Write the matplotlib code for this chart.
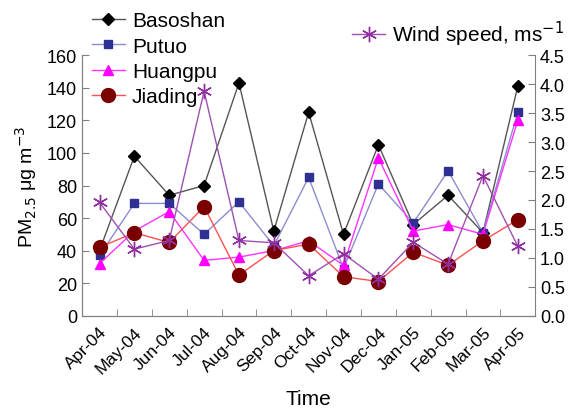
import numpy as np
import matplotlib
matplotlib.use("Agg")
import matplotlib.pyplot as plt

plt.rcParams['font.family'] = ['Liberation Sans', 'DejaVu Sans']

months = ["Apr-04", "May-04", "Jun-04", "Jul-04", "Aug-04", "Sep-04", "Oct-04",
          "Nov-04", "Dec-04", "Jan-05", "Feb-05", "Mar-05", "Apr-05"]

basoshan = [40, 98, 74, 80, 143, 52, 125, 50, 105, 56, 74, 51, 141]
putuo = [37, 69, 69, 50, 70, 43, 85, 29, 81, 57, 89, 51, 125]
huangpu = [32, 52, 64, 34, 36, 40, 46, 31, 97, 52, 56, 50, 120]
jiading = [42, 51, 45, 67, 25, 40, 44, 24, 21, 39, 31, 46, 59]
wind = [1.96, 1.15, 1.30, 3.88, 1.30, 1.26, 0.69, 1.07, 0.63, 1.27, 0.89, 2.42, 1.20]


def main():
    fig = plt.figure(figsize=(5.7, 4.14), dpi=100)
    ax = fig.add_axes([0.144, 0.235, 0.795, 0.629])
    ax2 = ax.twinx()

    x = np.arange(len(months))
    lw = 1.0
    l1, = ax.plot(x, basoshan, color="#555555", lw=lw, marker="D", ms=6,
                  mfc="black", mec="black", label="Basoshan")
    l2, = ax.plot(x, putuo, color="#8c8cd0", lw=lw, marker="s", ms=6,
                  mfc="#2e3192", mec="#2e3192", label="Putuo")
    l3, = ax.plot(x, huangpu, color="#ff33ff", lw=lw, marker="^", ms=7,
                  mfc="#ff00ff", mec="#ff00ff", label="Huangpu")
    l4, = ax.plot(x, jiading, color="#ff5050", lw=lw, marker="o", ms=10,
                  mfc="#7a0000", mec="#7a0000", label="Jiading")
    l5, = ax2.plot(x, wind, color="#a050b0", lw=lw, marker=(6, 2, 0), ms=11,
                   mec="#9030a0", mew=1.0, label="Wind speed, ms$^{-1}$")

    ax.set_xlim(-0.5, len(months) - 0.5)
    ax.set_ylim(0, 160)
    ax.set_yticks(np.arange(0, 161, 20))
    ax2.set_ylim(0, 4.5)
    ax2.set_yticks(np.arange(0, 4.51, 0.5))
    ax2.set_yticklabels([f"{v:.1f}" for v in np.arange(0, 4.51, 0.5)])

    ax.set_xticks(x)
    ax.set_xticklabels(months, rotation=45, ha="right", rotation_mode="anchor")
    ax.set_xticks(np.arange(0.5, len(months) - 1, 1), minor=True)
    ax.tick_params(axis="x", which="major", length=0, labelsize=12.5, pad=6)
    ax.tick_params(axis="x", which="minor", direction="in", length=5, color="#808080")
    ax.tick_params(axis="y", direction="in", length=5, color="#808080", labelsize=13)
    ax2.tick_params(axis="y", direction="in", length=5, color="#808080", labelsize=13)

    for a in (ax, ax2):
        a.spines["top"].set_visible(False)
        for s in ("left", "right", "bottom"):
            a.spines[s].set_color("#808080")
    ax.spines["right"].set_visible(False)

    ax.set_ylabel("PM$_{2.5}$ μg m$^{-3}$", fontsize=14, labelpad=6)
    ax.set_xlabel("Time", fontsize=15, labelpad=10)

    fig.legend(handles=[l1, l2, l3, l4], loc="upper left",
               bbox_to_anchor=(0.161, 0.970), frameon=False, fontsize=15,
               borderpad=0, borderaxespad=0, labelspacing=0.3,
               handlelength=1.6, handletextpad=0.33)
    fig.legend(handles=[l5], loc="upper left",
               bbox_to_anchor=(0.6175, 0.952), frameon=False, fontsize=15,
               borderpad=0, borderaxespad=0, handlelength=1.6, handletextpad=0.33)

    fig.savefig("out.png", dpi=100)


if __name__ == "__main__":
    main()
